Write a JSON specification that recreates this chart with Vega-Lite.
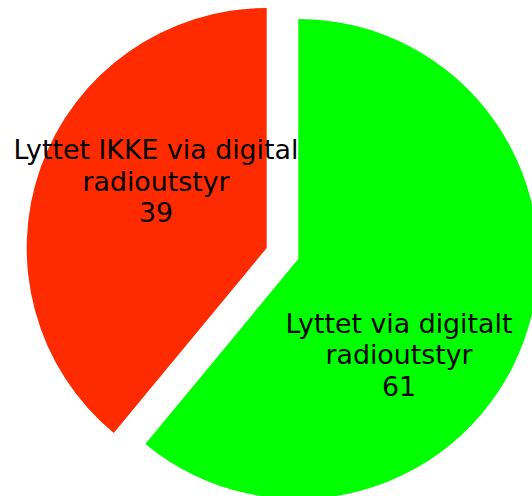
{
  "$schema": "https://vega.github.io/schema/vega-lite/v6.json",
  "width": 532,
  "height": 496,
  "autosize": {"type": "none"},
  "padding": 0,
  "background": "white",
  "config": {"view": {"stroke": null}},
  "data": {
    "values": [
      {"kategori": "Lyttet via digitalt radioutstyr", "label": "Lyttet via digitalt\nradioutstyr\n61", "andel": 61},
      {"kategori": "Lyttet IKKE via digital radioutstyr", "label": "Lyttet IKKE via digital\nradioutstyr\n39", "andel": 39}
    ]
  },
  "transform": [
    {"stack": "andel", "groupby": [], "sort": [{"field": "andel", "order": "descending"}], "as": ["a0", "a1"]}
  ],
  "layer": [
    {
      "transform": [{"filter": "datum.andel == 61"}],
      "mark": {"type": "arc", "outerRadius": 240, "xOffset": 32.3, "yOffset": 11, "color": "#00ff00"},
      "encoding": {
        "theta": {"field": "a0", "type": "quantitative", "scale": {"domain": [0, 100]}},
        "theta2": {"field": "a1"}
      }
    },
    {
      "transform": [{"filter": "datum.andel == 39"}],
      "mark": {"type": "arc", "outerRadius": 240, "xOffset": 0.7, "yOffset": 0, "color": "#ff2b00"},
      "encoding": {
        "theta": {"field": "a0", "type": "quantitative", "scale": {"domain": [0, 100]}},
        "theta2": {"field": "a1"}
      }
    },
    {
      "transform": [{"filter": "datum.andel == 61"}],
      "mark": {"type": "text", "font": "DejaVu Sans", "fontSize": 26.8, "lineBreak": "\n", "lineHeight": 31.3, "color": "black", "align": "center", "baseline": "alphabetic", "xOffset": 133, "yOffset": 85},
      "encoding": {"text": {"field": "label", "type": "nominal"}}
    },
    {
      "transform": [{"filter": "datum.andel == 39"}],
      "mark": {"type": "text", "font": "DejaVu Sans", "fontSize": 26.8, "lineBreak": "\n", "lineHeight": 31.5, "color": "black", "align": "center", "baseline": "alphabetic", "xOffset": -110, "yOffset": -89},
      "encoding": {"text": {"field": "label", "type": "nominal"}}
    }
  ]
}
